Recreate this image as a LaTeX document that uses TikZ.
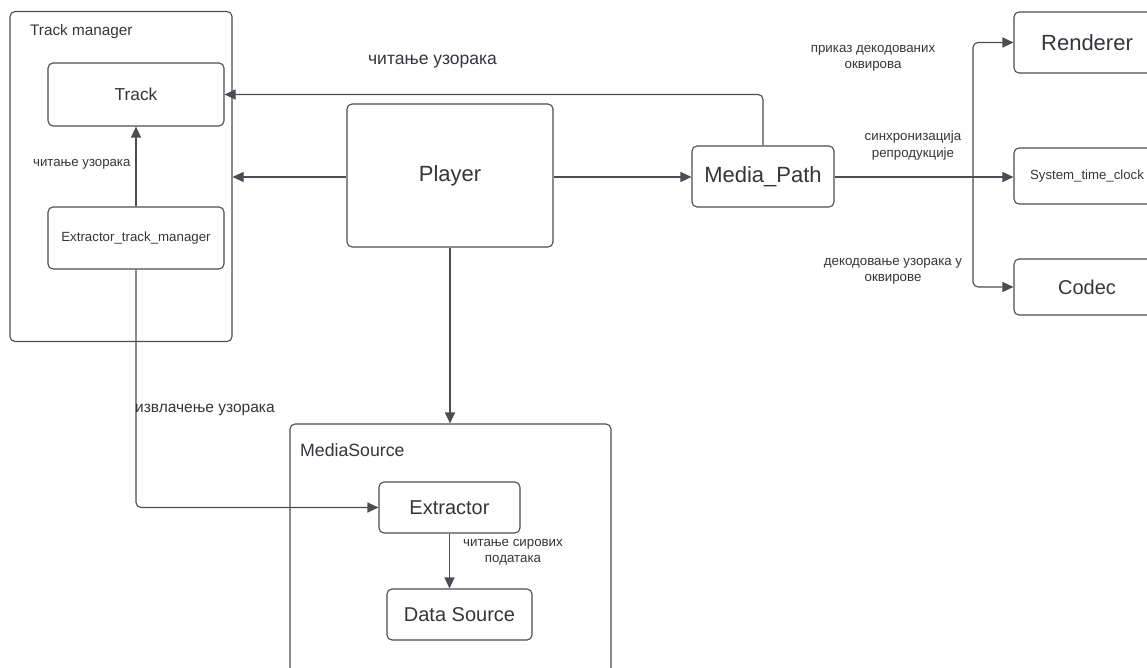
\documentclass[tikz,border=0pt]{standalone}
\usepackage{fontspec}
\setmainfont{Liberation Sans}
\usetikzlibrary{arrows.meta}
\definecolor{lc}{HTML}{4A4D52}
\definecolor{tc}{HTML}{33363B}
\tikzset{
  box/.style={draw=lc, line width=1.1pt, rounded corners=5pt, rectangle, inner sep=0pt, text=tc},
  conn/.style={draw=lc, line width=1.1pt, -{Triangle[length=11pt,width=10pt]}, rounded corners=5pt},
  lbl/.style={text=tc, inner sep=0pt, align=center},
}
\begin{document}
\begin{tikzpicture}[x=1pt,y=-1pt]
\useasboundingbox[fill=white] (0,0) rectangle (1147,668);
% containers
\node[box, minimum width=222pt, minimum height=330pt] (tm) at (121,176.5) {};
\node[lbl, anchor=west, font=\fontsize{15.3}{18}\selectfont] (tmlab) at (30,32) {Track manager};
\node[box, minimum width=321pt, minimum height=276pt] (ms) at (450.5,562) {};
\node[lbl, anchor=west, font=\fontsize{17.7}{21}\selectfont] (mslab) at (300,450) {MediaSource};
% boxes
\node[box, minimum width=176pt, minimum height=63pt, font=\fontsize{17.3}{20}\selectfont] (track) at (136,94.5) {Track};
\node[box, minimum width=176pt, minimum height=62pt, font=\fontsize{13.3}{16}\selectfont] (etm) at (136,238) {Extractor\_track\_manager};
\node[box, minimum width=206pt, minimum height=143pt, font=\fontsize{22}{26}\selectfont] (player) at (450,175.5) {Player};
\node[box, minimum width=142pt, minimum height=61pt, font=\fontsize{22}{26}\selectfont] (mp) at (763,176.5) {Media\_Path};
\node[box, minimum width=141pt, minimum height=51pt, font=\fontsize{20}{24}\selectfont] (ext) at (449.5,507.5) {Extractor};
\node[box, minimum width=145pt, minimum height=51pt, font=\fontsize{20}{24}\selectfont] (ds) at (459.5,614.5) {Data Source};
\node[box, minimum width=146pt, minimum height=61pt, font=\fontsize{22}{26}\selectfont] (rend) at (1087,42.5) {Renderer};
\node[box, minimum width=146pt, minimum height=56pt, font=\fontsize{13.2}{15}\selectfont] (stc) at (1087,176) {System\_time\_clock};
\node[box, minimum width=146pt, minimum height=56pt, font=\fontsize{20}{24}\selectfont] (codec) at (1087,287) {Codec};
% connectors
\draw[conn] (etm.north) -- (track.south);
\draw[conn] (player.west |- 0,177) -- (tm.east |- 0,177);
\draw[conn] (player.east |- 0,177) -- (mp.west |- 0,177);
\draw[conn] (mp.north) |- (track.east);
\draw[conn] (player.south) -- (ms.north -| player.south);
\draw[conn] (etm.south) |- (ext.west);
\draw[conn] (ext.south) -- (ext.south |- ds.north);
\draw[conn] (mp.east |- 0,177) -- (stc.west |- 0,177);
\coordinate (split) at (973,177);
\draw[conn] (split) |- (rend.west);
\draw[conn] (split) |- (codec.west);
% labels
\node[lbl, anchor=west, font=\fontsize{13.2}{16}\selectfont] (l1) at (33,164) {читање узорака};
\node[lbl, font=\fontsize{17.5}{21}\selectfont] (l2) at (432.5,62) {читање узорака};
\node[lbl, anchor=west, font=\fontsize{15.5}{18}\selectfont] (l3) at (135,410) {извлачење узорака};
\node[lbl, font=\fontsize{13.3}{16}\selectfont] (l4) at (513,552) {читање сирових\\података};
\node[lbl, font=\fontsize{13.3}{16}\selectfont] (l5) at (873,58) {приказ декодованих\\оквирова};
\node[lbl, font=\fontsize{13.3}{16.5}\selectfont] (l6) at (913,145.5) {синхронизација\\репродукције};
\node[lbl, font=\fontsize{13.3}{16}\selectfont] (l7) at (893,271) {декодовање узорака у\\оквирове};
\end{tikzpicture}
\end{document}
